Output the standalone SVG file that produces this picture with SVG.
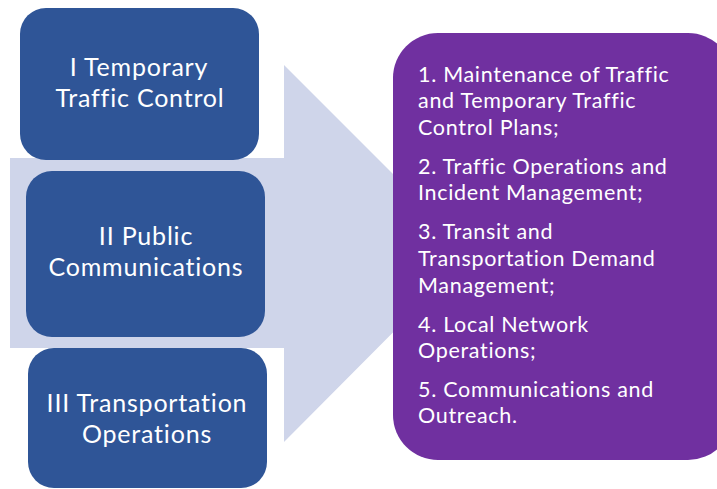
<svg xmlns="http://www.w3.org/2000/svg" width="717" height="489" viewBox="0 0 717 489">
  <style>
    .box { fill: #2F5597; }
    .result { fill: #7030A0; }
    .arrow { fill: #CFD5EA; }
    .lbl { font-family: Lato, "Open Sans", "Liberation Sans", sans-serif; fill: #FFFFFF; }
    .big { font-size: 25px; letter-spacing: 0.8px; text-anchor: middle; }
    .small { font-size: 21.5px; letter-spacing: 0.7px; }
  </style>
  <rect width="717" height="489" fill="#FFFFFF"/>

  <!-- wide background arrow pointing right -->
  <g id="connectors">
    <polygon class="arrow" points="10,158 284,158 284,65 472,253 284,442 284,348 10,348"/>
  </g>

  <g id="node-temporary-traffic-control">
    <rect class="box" x="20" y="8" width="239" height="152" rx="26"/>
    <text class="lbl big" x="139" y="76">I Temporary</text>
    <text class="lbl big" x="140" y="107">Traffic Control</text>
  </g>

  <g id="node-public-communications">
    <rect class="box" x="26" y="171" width="239" height="166" rx="26"/>
    <text class="lbl big" x="146" y="245">II Public</text>
    <text class="lbl big" x="146" y="276">Communications</text>
  </g>

  <g id="node-transportation-operations">
    <rect class="box" x="28" y="348" width="239" height="140" rx="26"/>
    <text class="lbl big" x="147" y="412">III Transportation</text>
    <text class="lbl big" x="147" y="443">Operations</text>
  </g>

  <g id="node-programs">
    <rect class="result" x="393" y="33" width="340" height="427" rx="45"/>
    <text class="lbl small" x="418" y="82">1. Maintenance of Traffic</text>
    <text class="lbl small" x="418" y="108">and Temporary Traffic</text>
    <text class="lbl small" x="418" y="135">Control Plans;</text>
    <text class="lbl small" x="418" y="174">2. Traffic Operations and</text>
    <text class="lbl small" x="418" y="200">Incident Management;</text>
    <text class="lbl small" x="418" y="239">3. Transit and</text>
    <text class="lbl small" x="418" y="266">Transportation Demand</text>
    <text class="lbl small" x="418" y="293">Management;</text>
    <text class="lbl small" x="418" y="332">4. Local Network</text>
    <text class="lbl small" x="418" y="358">Operations;</text>
    <text class="lbl small" x="418" y="397">5. Communications and</text>
    <text class="lbl small" x="418" y="423">Outreach.</text>
  </g>
</svg>
